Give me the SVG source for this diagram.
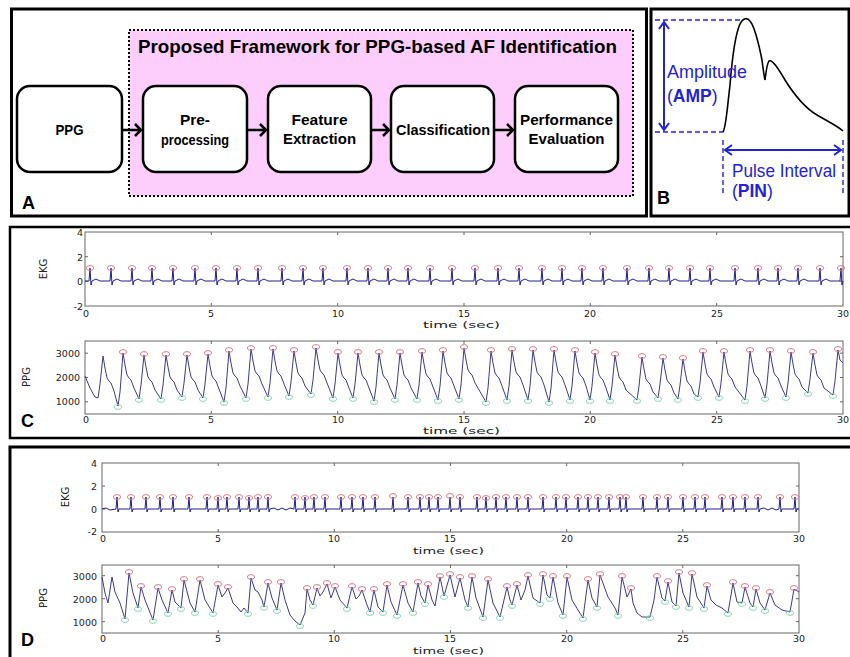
<svg xmlns="http://www.w3.org/2000/svg" width="850" height="657" viewBox="0 0 850 657">
<style>
.frame{fill:none;stroke:#000;stroke-width:3}
.node rect{fill:#fff;stroke:#000;stroke-width:2.5}
.lbl{font-family:"Liberation Sans",Arial,sans-serif;font-weight:bold;font-size:15px;text-anchor:middle;fill:#000}
.conn{fill:none;stroke:#000;stroke-width:2.5;stroke-linejoin:miter}
.bl{fill:none;stroke:#2222d6;stroke-width:2}
.bd{fill:none;stroke:#2222d6;stroke-width:1.4;stroke-dasharray:5 3}
.bt{font-family:"Liberation Sans",Arial,sans-serif;font-size:17.5px;fill:#2222d6}
.panel{font-family:"Liberation Sans",Arial,sans-serif;font-weight:bold;font-size:18px;fill:#000}
.axis{fill:#fff;stroke:#666;stroke-width:1}
.tick{fill:none;stroke:#666;stroke-width:1}
.tl{font-family:"DejaVu Sans",sans-serif;font-size:9.5px;fill:#222}
.e{text-anchor:end}
.m{text-anchor:middle}
.ekg{fill:none;stroke:#20208c;stroke-width:1}
.ppg{fill:none;stroke:#3c3c84;stroke-width:1}
</style>
<defs>
<ellipse id="pk" rx="3.6" ry="2.4" fill="none" stroke="#d0707e" stroke-width="0.9"/>
<ellipse id="tr" rx="3.6" ry="2.4" fill="none" stroke="#80d2aa" stroke-width="0.9"/>
</defs>
<rect width="850" height="657" fill="#fff"/>

<!-- Panel A -->
<g id="panelA">
<rect class="frame" x="11.5" y="9" width="635" height="207"/>
<rect x="129" y="30" width="504" height="166" fill="#fdcdfb" stroke="#000" stroke-width="2" stroke-dasharray="2 2"/>
<text x="138" y="53" font-family="'Liberation Sans',Arial,sans-serif" font-weight="bold" font-size="18.5" textLength="479" lengthAdjust="spacingAndGlyphs">Proposed Framework for PPG-based AF Identification</text>
<text class="panel" x="22" y="209" font-size="17">A</text>
</g>
<g id="node-ppg" class="node"><rect x="17" y="86" width="105" height="86" rx="13"/><text class="lbl" x="69.5" y="135" textLength="28" lengthAdjust="spacingAndGlyphs">PPG</text></g>
<g id="node-pre" class="node"><rect x="143" y="86" width="104" height="86" rx="13"/><text class="lbl" x="195" y="125" textLength="30" lengthAdjust="spacingAndGlyphs">Pre-</text><text class="lbl" x="195" y="145" textLength="68" lengthAdjust="spacingAndGlyphs">processing</text></g>
<g id="node-feat" class="node"><rect x="268" y="86" width="103" height="86" rx="13"/><text class="lbl" x="319.5" y="125" textLength="56" lengthAdjust="spacingAndGlyphs">Feature</text><text class="lbl" x="319.5" y="144" textLength="73" lengthAdjust="spacingAndGlyphs">Extraction</text></g>
<g id="node-class" class="node"><rect x="391" y="86" width="103" height="86" rx="13"/><text class="lbl" x="443" y="135" textLength="94" lengthAdjust="spacingAndGlyphs">Classification</text></g>
<g id="node-perf" class="node"><rect x="515" y="86" width="103" height="86" rx="13"/><text class="lbl" x="566.5" y="125" textLength="93" lengthAdjust="spacingAndGlyphs">Performance</text><text class="lbl" x="566.5" y="144" textLength="76" lengthAdjust="spacingAndGlyphs">Evaluation</text></g>
<g id="connectors">
<path class="conn" d="M122,130 H141 M135,124 L141,130 L135,136"/>
<path class="conn" d="M247,130 H266 M260,124 L266,130 L260,136"/>
<path class="conn" d="M371,130 H389 M383,124 L389,130 L383,136"/>
<path class="conn" d="M494,130 H513 M507,124 L513,130 L507,136"/>
</g>

<!-- Panel B -->
<g id="panelB">
<rect class="frame" x="651" y="9" width="198" height="207"/>
<path class="bd" d="M655,20 H743 M655,132 H723 M723,140 V195 M843,140 V195"/>
<path class="bl" d="M664,22 V130 M659,29 L664,22 L669,29 M659,123 L664,130 L669,123"/>
<path class="bl" d="M725,150 H841 M732,145 L725,150 L732,155 M834,145 L841,150 L834,155"/>
<path fill="none" stroke="#000" stroke-width="1.6" d="M723,132 C726,128 727,110 730,85 C732,60 735,35 740,24 C743,18 747,17 750,21 C755,27 759,45 762,60 C763,68 764,76 765,80 C766,72 767,63 769,61 C772,59 778,68 785,80 C795,96 805,108 817,115 C827,121 836,125 843,131"/>
<text class="bt" x="667" y="78" textLength="80" lengthAdjust="spacingAndGlyphs">Amplitude</text>
<text class="bt" x="667" y="102">(<tspan font-weight="bold">AMP</tspan>)</text>
<text class="bt" x="732" y="177" textLength="104" lengthAdjust="spacingAndGlyphs">Pulse Interval</text>
<text class="bt" x="732" y="197">(<tspan font-weight="bold">PIN</tspan>)</text>
<text class="panel" x="657" y="204" font-size="17">B</text>
</g>

<!-- Panel C -->
<g id="panelC">
<rect x="10" y="227" width="845" height="211" fill="none" stroke="#000" stroke-width="2.5"/>
<rect class="axis" x="85" y="232" width="758" height="74"/>
<rect class="axis" x="85" y="341" width="758" height="73"/>
<path class="tick" d="M211.3,306v-3M337.7,306v-3M464,306v-3M590.3,306v-3M716.7,306v-3M211.3,232v3M337.7,232v3M464,232v3M590.3,232v3M716.7,232v3M85,256.7h3M85,281.3h3M843,256.7h-3M843,281.3h-3
M211.3,414v-3M337.7,414v-3M464,414v-3M590.3,414v-3M716.7,414v-3M211.3,341v3M337.7,341v3M464,341v3M590.3,341v3M716.7,341v3M85,353.2h3M85,377.5h3M85,401.8h3M843,353.2h-3M843,377.5h-3M843,401.8h-3"/>
<path class="ekg" d="M85,281 L89,281 l1,-13 l1,17 l1,-4 l4,-2 l4,2 L110,281 l1,-13 l1,17 l1,-4 l4,-2 l4,2 L131,281 l1,-13 l1,17 l1,-4 l4,-2 l4,2 L151,281 l1,-13 l1,17 l1,-4 l4,-2 l4,2 L172,281 l1,-13 l1,17 l1,-4 l4,-2 l4,2 L194,281 l1,-13 l1,17 l1,-4 l4,-2 l4,2 L215,281 l1,-13 l1,17 l1,-4 l4,-2 l4,2 L236,281 l1,-13 l1,17 l1,-4 l4,-2 l4,2 L257,281 l1,-13 l1,17 l1,-4 l4,-2 l4,2 L281,281 l1,-13 l1,17 l1,-4 l4,-2 l4,2 L302,281 l1,-13 l1,17 l1,-4 l4,-2 l4,2 L322,281 l1,-13 l1,17 l1,-4 l4,-2 l4,2 L346,281 l1,-13 l1,17 l1,-4 l4,-2 l4,2 L367,281 l1,-13 l1,17 l1,-4 l4,-2 l4,2 L387,281 l1,-13 l1,17 l1,-4 l4,-2 l4,2 L407,281 l1,-13 l1,17 l1,-4 l4,-2 l4,2 L429,281 l1,-13 l1,17 l1,-4 l4,-2 l4,2 L451,281 l1,-13 l1,17 l1,-4 l4,-2 l4,2 L474,281 l1,-13 l1,17 l1,-4 l4,-2 l4,2 L497,281 l1,-13 l1,17 l1,-4 l4,-2 l4,2 L518,281 l1,-13 l1,17 l1,-4 l4,-2 l4,2 L541,281 l1,-13 l1,17 l1,-4 l4,-2 l4,2 L561,281 l1,-13 l1,17 l1,-4 l4,-2 l4,2 L581,281 l1,-13 l1,17 l1,-4 l4,-2 l4,2 L602,281 l1,-13 l1,17 l1,-4 l4,-2 l4,2 L626,281 l1,-13 l1,17 l1,-4 l4,-2 l4,2 L648,281 l1,-13 l1,17 l1,-4 l4,-2 l4,2 L668,281 l1,-13 l1,17 l1,-4 l4,-2 l4,2 L689,281 l1,-13 l1,17 l1,-4 l4,-2 l4,2 L709,281 l1,-13 l1,17 l1,-4 l4,-2 l4,2 L734,281 l1,-13 l1,17 l1,-4 l4,-2 l4,2 L757,281 l1,-13 l1,17 l1,-4 l4,-2 l4,2 L777,281 l1,-13 l1,17 l1,-4 l4,-2 l4,2 L797,281 l1,-13 l1,17 l1,-4 l4,-2 l4,2 L819,281 l1,-13 l1,17 l1,-4 l4,-2 l4,2 L840,281 l1,-13 l1,17 l1,-4"/>
<g>
<use href="#pk" x="90" y="268"/><use href="#pk" x="111" y="268"/><use href="#pk" x="132" y="268"/><use href="#pk" x="152" y="268"/><use href="#pk" x="173" y="268"/><use href="#pk" x="195" y="268"/><use href="#pk" x="216" y="268"/><use href="#pk" x="237" y="268"/><use href="#pk" x="258" y="268"/><use href="#pk" x="282" y="268"/><use href="#pk" x="303" y="268"/><use href="#pk" x="323" y="268"/><use href="#pk" x="347" y="268"/><use href="#pk" x="368" y="268"/><use href="#pk" x="388" y="268"/><use href="#pk" x="408" y="268"/><use href="#pk" x="430" y="268"/><use href="#pk" x="452" y="268"/><use href="#pk" x="475" y="268"/><use href="#pk" x="498" y="268"/><use href="#pk" x="519" y="268"/><use href="#pk" x="542" y="268"/><use href="#pk" x="562" y="268"/><use href="#pk" x="582" y="268"/><use href="#pk" x="603" y="268"/><use href="#pk" x="627" y="268"/><use href="#pk" x="649" y="268"/><use href="#pk" x="669" y="268"/><use href="#pk" x="690" y="268"/><use href="#pk" x="710" y="268"/><use href="#pk" x="735" y="268"/><use href="#pk" x="758" y="268"/><use href="#pk" x="778" y="268"/><use href="#pk" x="798" y="268"/><use href="#pk" x="820" y="268"/><use href="#pk" x="841" y="268"/>
</g>
<path class="ppg" d="M85,376 L90,388 L95,397 L98,398 l2,-14 L103,356 l2,12 l2,10 l2,3 l2,2 l3,8 L118,406 l2,-14 L123,353 l2,12 l2,10 l2,3 l2,2 l3,8 L139,399 l2,-14 L144,355 l2,12 l2,10 l2,3 l2,2 l3,8 L161,399 l2,-14 L166,355 l2,12 l2,10 l2,3 l2,2 l3,8 L182,397 l2,-14 L187,355 l2,12 l2,10 l2,3 l2,2 l3,8 L203,398 l2,-14 L208,354 l2,12 l2,10 l2,3 l2,2 l3,8 L224,402 l2,-14 L229,351 l2,12 l2,10 l2,3 l2,2 l3,8 L246,398 l2,-14 L251,349 l2,12 l2,10 l2,3 l2,2 l3,8 L268,397 l2,-14 L273,349 l2,12 l2,10 l2,3 l2,2 l3,8 L289,396 l2,-14 L294,351 l2,12 l2,10 l2,3 l2,2 l3,8 L311,394 l2,-14 L316,348 l2,12 l2,10 l2,3 l2,2 l3,8 L333,398 l2,-14 L338,353 l2,12 l2,10 l2,3 l2,2 l3,8 L353,398 l2,-14 L358,353 l2,12 l2,10 l2,3 l2,2 l3,8 L374,401 l2,-14 L379,353 l2,12 l2,10 l2,3 l2,2 l3,8 L395,399 l2,-14 L400,353 l2,12 l2,10 l2,3 l2,2 l3,8 L417,399 l2,-14 L422,352 l2,12 l2,10 l2,3 l2,2 l3,8 L438,400 l2,-14 L443,351 l2,12 l2,10 l2,3 l2,2 l3,8 L459,399 l2,-14 L464,348 l2,12 l2,10 l2,3 l2,2 l3,8 L486,402 l2,-14 L491,351 l2,12 l2,10 l2,3 l2,2 l3,8 L507,400 l2,-14 L512,350 l2,12 l2,10 l2,3 l2,2 l3,8 L528,400 l2,-14 L533,350 l2,12 l2,10 l2,3 l2,2 l3,8 L549,402 l2,-14 L554,350 l2,12 l2,10 l2,3 l2,2 l3,8 L570,400 l2,-14 L575,351 l2,12 l2,10 l2,3 l2,2 l3,8 L590,400 l2,-14 L595,353 l2,12 l2,10 l2,3 l2,2 l3,8 L610,400 l2,-14 L615,355 l2,12 l2,10 l2,3 l2,2 l3,8 L637,400 l2,-14 L642,357 l2,12 l2,10 l2,3 l2,2 l3,8 L658,398 l2,-14 L663,358 l2,12 l2,10 l2,3 l2,2 l3,8 L678,399 l2,-14 L683,359 l2,12 l2,10 l2,3 l2,2 l3,8 L698,397 l2,-14 L703,352 l2,12 l2,10 l2,3 l2,2 l3,8 L719,397 l2,-14 L724,352 l2,12 l2,10 l2,3 l2,2 l3,8 L745,400 l2,-14 L750,351 l2,12 l2,10 l2,3 l2,2 l3,8 L765,398 l2,-14 L770,351 l2,12 l2,10 l2,3 l2,2 l3,8 L786,397 l2,-14 L791,352 l2,12 l2,10 l2,3 l2,2 l3,8 L808,393 l2,-14 L813,353 l2,12 l2,10 l2,3 l2,2 l3,8 L833,395 l2,-14 L838,350 l2,10 L843,363"/>
<g>
<use href="#pk" x="123" y="352"/><use href="#pk" x="144" y="354"/><use href="#pk" x="166" y="354"/><use href="#pk" x="187" y="354"/><use href="#pk" x="208" y="353"/><use href="#pk" x="229" y="350"/><use href="#pk" x="251" y="348"/><use href="#pk" x="273" y="348"/><use href="#pk" x="294" y="350"/><use href="#pk" x="316" y="347"/><use href="#pk" x="338" y="352"/><use href="#pk" x="358" y="352"/><use href="#pk" x="379" y="352"/><use href="#pk" x="400" y="352"/><use href="#pk" x="422" y="351"/><use href="#pk" x="443" y="350"/><use href="#pk" x="464" y="347"/><use href="#pk" x="491" y="350"/><use href="#pk" x="512" y="349"/><use href="#pk" x="533" y="349"/><use href="#pk" x="554" y="349"/><use href="#pk" x="575" y="350"/><use href="#pk" x="595" y="352"/><use href="#pk" x="615" y="354"/><use href="#pk" x="642" y="356"/><use href="#pk" x="663" y="357"/><use href="#pk" x="683" y="358"/><use href="#pk" x="703" y="351"/><use href="#pk" x="724" y="351"/><use href="#pk" x="750" y="350"/><use href="#pk" x="770" y="350"/><use href="#pk" x="791" y="351"/><use href="#pk" x="813" y="352"/><use href="#pk" x="838" y="349"/>
<use href="#tr" x="118" y="407"/><use href="#tr" x="139" y="400"/><use href="#tr" x="161" y="400"/><use href="#tr" x="182" y="398"/><use href="#tr" x="203" y="399"/><use href="#tr" x="224" y="403"/><use href="#tr" x="246" y="399"/><use href="#tr" x="268" y="398"/><use href="#tr" x="289" y="397"/><use href="#tr" x="311" y="395"/><use href="#tr" x="333" y="399"/><use href="#tr" x="353" y="399"/><use href="#tr" x="374" y="402"/><use href="#tr" x="395" y="400"/><use href="#tr" x="417" y="400"/><use href="#tr" x="438" y="401"/><use href="#tr" x="459" y="400"/><use href="#tr" x="486" y="403"/><use href="#tr" x="507" y="401"/><use href="#tr" x="528" y="401"/><use href="#tr" x="549" y="403"/><use href="#tr" x="570" y="401"/><use href="#tr" x="590" y="401"/><use href="#tr" x="610" y="401"/><use href="#tr" x="637" y="401"/><use href="#tr" x="658" y="399"/><use href="#tr" x="678" y="400"/><use href="#tr" x="698" y="398"/><use href="#tr" x="719" y="398"/><use href="#tr" x="745" y="401"/><use href="#tr" x="765" y="399"/><use href="#tr" x="786" y="398"/><use href="#tr" x="808" y="394"/><use href="#tr" x="833" y="396"/>
</g>
<g class="tl">
<text class="e" x="83" y="236">4</text><text class="e" x="83" y="261">2</text><text class="e" x="83" y="285">0</text><text class="e" x="83" y="310">-2</text>
<text class="m" x="86" y="317">0</text><text class="m" x="211" y="317">5</text><text class="m" x="338" y="317">10</text><text class="m" x="464" y="317">15</text><text class="m" x="590" y="317">20</text><text class="m" x="717" y="317">25</text><text class="m" x="843" y="317">30</text>
<text x="423" y="328" textLength="77" lengthAdjust="spacingAndGlyphs">time (sec)</text>
<text class="m" transform="translate(47,269) rotate(-90)" font-size="10">EKG</text>
<text class="e" x="80" y="357">3000</text><text class="e" x="80" y="381">2000</text><text class="e" x="80" y="405">1000</text>
<text class="m" x="86" y="423">0</text><text class="m" x="211" y="423">5</text><text class="m" x="338" y="423">10</text><text class="m" x="464" y="423">15</text><text class="m" x="590" y="423">20</text><text class="m" x="717" y="423">25</text><text class="m" x="843" y="423">30</text>
<text x="423" y="434" textLength="77" lengthAdjust="spacingAndGlyphs">time (sec)</text>
<text class="m" transform="translate(30,377) rotate(-90)" font-size="10">PPG</text>
</g>
<text class="panel" x="21" y="427">C</text>
</g>

<!-- Panel D -->
<g id="panelD">
<rect x="10" y="447" width="845" height="220" fill="none" stroke="#000" stroke-width="3"/>
<rect class="axis" x="102" y="463" width="697" height="69"/>
<rect class="axis" x="102" y="565" width="697" height="68"/>
<path class="tick" d="M218.2,532v-3M334.3,532v-3M450.5,532v-3M566.7,532v-3M682.8,532v-3M218.2,463v3M334.3,463v3M450.5,463v3M566.7,463v3M682.8,463v3M102,486h3M102,509h3M799,486h-3M799,509h-3
M218.2,633v-3M334.3,633v-3M450.5,633v-3M566.7,633v-3M682.8,633v-3M218.2,565v3M334.3,565v3M450.5,565v3M566.7,565v3M682.8,565v3M102,575.7h3M102,598.7h3M102,621.7h3M799,575.7h-3M799,598.7h-3M799,621.7h-3"/>
<path class="ekg" d="M102,509 L106,508 L110,510 L116,509 l1,-12 l1,15 l1,-3 L130,509 l1,-12 l1,15 l1,-3 L145,509 l1,-12 l1,15 l1,-3 L159,509 l1,-12 l1,15 l1,-3 L172,509 l1,-12 l1,15 l1,-3 L188,509 l1,-12 l1,15 l1,-3 L206,509 l1,-12 l1,15 l1,-3 L217,509 l1,-12 l1,15 l1,-3 L226,509 l1,-12 l1,15 l1,-3 L238,509 l1,-12 l1,15 l1,-3 L248,509 l1,-12 l1,15 l1,-3 L257,509 l1,-12 l1,15 l1,-3 L267,509 l1,-12 l1,15 l1,-3 L274,508 L278,510 L282,508 L286,510 L290,508 L294,509 l1,-12 l1,15 l1,-3 L304,509 l1,-12 l1,15 l1,-3 L313,509 l1,-12 l1,15 l1,-3 L324,509 l1,-12 l1,15 l1,-3 L340,509 l1,-12 l1,15 l1,-3 L351,509 l1,-12 l1,15 l1,-3 L362,509 l1,-12 l1,15 l1,-3 L374,509 l1,-12 l1,15 l1,-3 L392,509 l1,-12 l1,15 l1,-3 L407,509 l1,-12 l1,15 l1,-3 L419,509 l1,-12 l1,15 l1,-3 L428,509 l1,-12 l1,15 l1,-3 L437,509 l1,-12 l1,15 l1,-3 L449,509 l1,-12 l1,15 l1,-3 L459,509 l1,-12 l1,15 l1,-3 L476,509 l1,-12 l1,15 l1,-3 L485,509 l1,-12 l1,15 l1,-3 L495,509 l1,-12 l1,15 l1,-3 L505,509 l1,-12 l1,15 l1,-3 L516,509 l1,-12 l1,15 l1,-3 L527,509 l1,-12 l1,15 l1,-3 L542,509 l1,-12 l1,15 l1,-3 L555,509 l1,-12 l1,15 l1,-3 L565,509 l1,-12 l1,15 l1,-3 L577,509 l1,-12 l1,15 l1,-3 L587,509 l1,-12 l1,15 l1,-3 L597,509 l1,-12 l1,15 l1,-3 L608,509 l1,-12 l1,15 l1,-3 L619,509 l1,-12 l1,15 l1,-3 L625,509 l1,-12 l1,15 l1,-3 L642,509 l1,-12 l1,15 l1,-3 L656,509 l1,-12 l1,15 l1,-3 L667,509 l1,-12 l1,15 l1,-3 L682,509 l1,-12 l1,15 l1,-3 L694,509 l1,-12 l1,15 l1,-3 L704,509 l1,-12 l1,15 l1,-3 L721,509 l1,-12 l1,15 l1,-3 L732,509 l1,-12 l1,15 l1,-3 L744,509 l1,-12 l1,15 l1,-3 L757,509 l1,-12 l1,15 l1,-3 L764,508 L768,510 L772,508 L776,510 L779,509 l1,-12 l1,15 l1,-3 L794,509 l1,-12 l1,15 l1,-3 L799,509"/>
<g>
<use href="#pk" x="117" y="497"/><use href="#pk" x="131" y="497"/><use href="#pk" x="146" y="497"/><use href="#pk" x="160" y="497"/><use href="#pk" x="173" y="497"/><use href="#pk" x="189" y="497"/><use href="#pk" x="207" y="497"/><use href="#pk" x="218" y="498"/><use href="#pk" x="227" y="497"/><use href="#pk" x="239" y="497"/><use href="#pk" x="249" y="498"/><use href="#pk" x="258" y="497"/><use href="#pk" x="268" y="497"/><use href="#pk" x="295" y="497"/><use href="#pk" x="305" y="498"/><use href="#pk" x="314" y="497"/><use href="#pk" x="325" y="497"/><use href="#pk" x="341" y="497"/><use href="#pk" x="352" y="497"/><use href="#pk" x="363" y="497"/><use href="#pk" x="375" y="497"/><use href="#pk" x="393" y="496"/><use href="#pk" x="408" y="497"/><use href="#pk" x="420" y="497"/><use href="#pk" x="429" y="497"/><use href="#pk" x="438" y="497"/><use href="#pk" x="450" y="496"/><use href="#pk" x="460" y="497"/><use href="#pk" x="477" y="497"/><use href="#pk" x="486" y="498"/><use href="#pk" x="496" y="497"/><use href="#pk" x="506" y="497"/><use href="#pk" x="517" y="497"/><use href="#pk" x="528" y="497"/><use href="#pk" x="543" y="497"/><use href="#pk" x="556" y="497"/><use href="#pk" x="566" y="497"/><use href="#pk" x="578" y="497"/><use href="#pk" x="588" y="497"/><use href="#pk" x="598" y="497"/><use href="#pk" x="609" y="497"/><use href="#pk" x="620" y="497"/><use href="#pk" x="626" y="497"/><use href="#pk" x="643" y="497"/><use href="#pk" x="657" y="497"/><use href="#pk" x="668" y="497"/><use href="#pk" x="683" y="497"/><use href="#pk" x="695" y="497"/><use href="#pk" x="705" y="497"/><use href="#pk" x="722" y="497"/><use href="#pk" x="733" y="497"/><use href="#pk" x="745" y="497"/><use href="#pk" x="758" y="497"/><use href="#pk" x="780" y="497"/><use href="#pk" x="795" y="497"/>
</g>
<path class="ppg" d="M102,577 L105,593 L108,603 L112,577 L115,592 L120,603 L125,619 L129,573 L133,593 L138,608 L141,587 L145,600 L153,620 L158,588 L162,600 L168,613 L172,590 L175,602 L181,608 L184,580 L190,603 L195,612 L200,580 L205,600 L213,613 L218,585 L222,597 L225,593 L228,588 L233,603 L237,607 L241,612 L244,608 L248,613 L251,578 L255,590 L258,592 L262,600 L264,607 L268,583 L272,598 L277,610 L281,583 L285,600 L290,615 L295,621 L300,625 L305,613 L307,589 L310,600 L313,605 L317,588 L320,596 L323,592 L327,584 L331,598 L335,587 L340,600 L347,608 L352,587 L356,599 L359,596 L362,590 L367,605 L370,612 L374,590 L378,607 L383,612 L387,585 L391,602 L397,615 L403,585 L408,603 L413,612 L418,583 L421,596 L425,603 L428,585 L432,600 L435,606 L440,577 L444,596 L450,575 L455,597 L460,578 L465,600 L468,607 L472,577 L476,598 L483,617 L488,580 L493,603 L500,617 L504,600 L507,587 L510,600 L512,605 L517,585 L521,600 L525,590 L528,576 L533,598 L540,603 L543,575 L547,595 L550,598 L553,577 L558,603 L563,615 L567,577 L572,600 L578,610 L583,618 L588,580 L592,598 L597,607 L600,575 L608,597 L615,608 L618,615 L622,577 L627,597 L631,589 L633,603 L637,613 L642,617 L650,617 L654,600 L657,577 L662,598 L665,601 L668,582 L672,602 L676,606 L679,573 L683,593 L689,607 L692,574 L697,597 L704,608 L707,586 L711,600 L716,605 L722,608 L728,613 L733,583 L737,602 L742,603 L745,587 L750,603 L753,607 L756,589 L760,603 L765,610 L770,593 L775,605 L782,610 L790,612 L794,589 L799,592"/>
<g>
<use href="#pk" x="129" y="572"/><use href="#pk" x="141" y="586"/><use href="#pk" x="158" y="587"/><use href="#pk" x="172" y="589"/><use href="#pk" x="184" y="579"/><use href="#pk" x="200" y="579"/><use href="#pk" x="218" y="584"/><use href="#pk" x="228" y="587"/><use href="#pk" x="251" y="577"/><use href="#pk" x="268" y="582"/><use href="#pk" x="281" y="582"/><use href="#pk" x="307" y="588"/><use href="#pk" x="317" y="587"/><use href="#pk" x="327" y="583"/><use href="#pk" x="335" y="586"/><use href="#pk" x="352" y="586"/><use href="#pk" x="362" y="589"/><use href="#pk" x="374" y="589"/><use href="#pk" x="387" y="584"/><use href="#pk" x="403" y="584"/><use href="#pk" x="418" y="582"/><use href="#pk" x="428" y="584"/><use href="#pk" x="440" y="576"/><use href="#pk" x="450" y="574"/><use href="#pk" x="460" y="577"/><use href="#pk" x="472" y="576"/><use href="#pk" x="488" y="579"/><use href="#pk" x="507" y="586"/><use href="#pk" x="517" y="584"/><use href="#pk" x="528" y="575"/><use href="#pk" x="543" y="574"/><use href="#pk" x="553" y="576"/><use href="#pk" x="567" y="576"/><use href="#pk" x="588" y="579"/><use href="#pk" x="600" y="574"/><use href="#pk" x="622" y="576"/><use href="#pk" x="631" y="588"/><use href="#pk" x="657" y="576"/><use href="#pk" x="668" y="581"/><use href="#pk" x="679" y="572"/><use href="#pk" x="692" y="573"/><use href="#pk" x="707" y="585"/><use href="#pk" x="733" y="582"/><use href="#pk" x="745" y="586"/><use href="#pk" x="756" y="588"/><use href="#pk" x="770" y="592"/><use href="#pk" x="794" y="588"/>
<use href="#tr" x="125" y="620"/><use href="#tr" x="138" y="609"/><use href="#tr" x="153" y="621"/><use href="#tr" x="168" y="614"/><use href="#tr" x="181" y="609"/><use href="#tr" x="195" y="613"/><use href="#tr" x="213" y="614"/><use href="#tr" x="248" y="614"/><use href="#tr" x="264" y="608"/><use href="#tr" x="277" y="611"/><use href="#tr" x="300" y="626"/><use href="#tr" x="313" y="606"/><use href="#tr" x="347" y="609"/><use href="#tr" x="370" y="613"/><use href="#tr" x="383" y="613"/><use href="#tr" x="397" y="616"/><use href="#tr" x="413" y="613"/><use href="#tr" x="425" y="604"/><use href="#tr" x="444" y="597"/><use href="#tr" x="468" y="608"/><use href="#tr" x="483" y="618"/><use href="#tr" x="500" y="618"/><use href="#tr" x="512" y="606"/><use href="#tr" x="540" y="604"/><use href="#tr" x="550" y="599"/><use href="#tr" x="563" y="616"/><use href="#tr" x="583" y="619"/><use href="#tr" x="597" y="608"/><use href="#tr" x="618" y="616"/><use href="#tr" x="650" y="618"/><use href="#tr" x="665" y="602"/><use href="#tr" x="676" y="607"/><use href="#tr" x="689" y="608"/><use href="#tr" x="704" y="609"/><use href="#tr" x="728" y="614"/><use href="#tr" x="742" y="604"/><use href="#tr" x="753" y="608"/><use href="#tr" x="765" y="611"/><use href="#tr" x="790" y="613"/>
</g>
<g class="tl">
<text class="e" x="97" y="467">4</text><text class="e" x="97" y="490">2</text><text class="e" x="97" y="513">0</text><text class="e" x="97" y="535">-2</text>
<text class="m" x="103" y="542">0</text><text class="m" x="218" y="542">5</text><text class="m" x="334" y="542">10</text><text class="m" x="450" y="542">15</text><text class="m" x="567" y="542">20</text><text class="m" x="683" y="542">25</text><text class="m" x="799" y="542">30</text>
<text x="413" y="554" textLength="71" lengthAdjust="spacingAndGlyphs">time (sec)</text>
<text class="m" transform="translate(69,497) rotate(-90)" font-size="10">EKG</text>
<text class="e" x="97" y="580">3000</text><text class="e" x="97" y="603">2000</text><text class="e" x="97" y="626">1000</text>
<text class="m" x="103" y="642">0</text><text class="m" x="218" y="642">5</text><text class="m" x="334" y="642">10</text><text class="m" x="450" y="642">15</text><text class="m" x="567" y="642">20</text><text class="m" x="683" y="642">25</text><text class="m" x="799" y="642">30</text>
<text x="413" y="654" textLength="71" lengthAdjust="spacingAndGlyphs">time (sec)</text>
<text class="m" transform="translate(47,598) rotate(-90)" font-size="10">PPG</text>
</g>
<text class="panel" x="21" y="646">D</text>
</g>
</svg>
